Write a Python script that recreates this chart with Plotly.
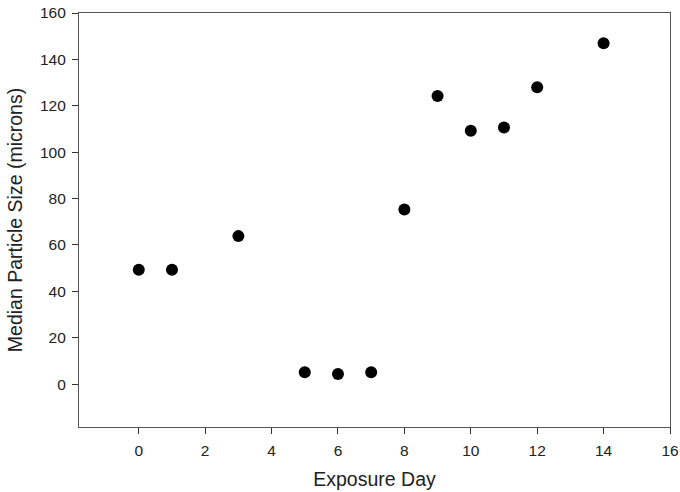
import plotly.graph_objects as go

days = [0, 1, 3, 5, 6, 7, 8, 9, 10, 11, 12, 14]
median_size = [49.3, 49.3, 63.8, 5.1, 4.4, 5.1, 75.3, 124.2, 109.2, 110.6, 128.0, 147.0]
x_ticks = [0, 2, 4, 6, 8, 10, 12, 14, 16]
y_ticks = [0, 20, 40, 60, 80, 100, 120, 140, 160]

FONT = "Liberation Sans, Arial, sans-serif"

fig = go.Figure()
fig.add_trace(go.Scatter(
    x=days, y=median_size, mode="markers",
    marker=dict(color="black", size=12, line=dict(width=0)),
    showlegend=False,
))

axis_common = dict(
    showgrid=False, zeroline=False, showline=True, linecolor="#555555", linewidth=1.2,
    mirror=True, ticks="outside", ticklen=6, tickwidth=1.2, tickcolor="#333333",
    tickfont=dict(family=FONT, size=15.5, color="#222222"),
    automargin=False, ticklabelstandoff=3,
)

fig.update_xaxes(
    range=[-1.8, 16], tickvals=x_ticks, ticktext=[str(v) for v in x_ticks],
    title=dict(text="Exposure Day", font=dict(family=FONT, size=19.5, color="#222222"), standoff=14),
    **axis_common,
)
fig.update_yaxes(
    range=[-18.5, 160], tickvals=y_ticks, ticktext=[str(v) for v in y_ticks],
    title=dict(text="Median Particle Size (microns)", font=dict(family=FONT, size=19.5, color="#222222"), standoff=12),
    **axis_common,
)

fig.update_layout(
    width=680, height=492,
    margin=dict(l=79, r=10, t=13, b=65),
    paper_bgcolor="white", plot_bgcolor="white",
)

fig.write_html("out.html")
